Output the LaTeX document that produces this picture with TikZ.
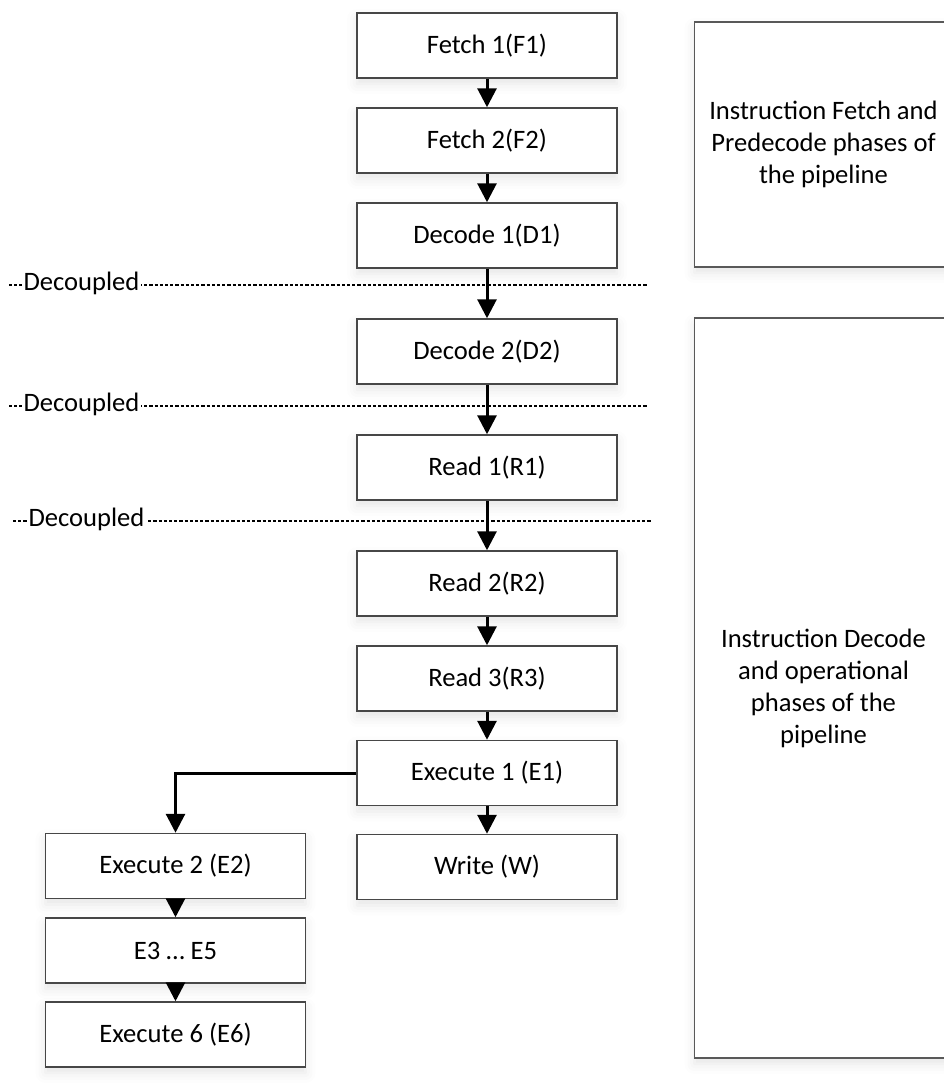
\documentclass[tikz,border=0pt]{standalone}
\usepackage{fontspec}
\setmainfont{Carlito}
\usetikzlibrary{arrows.meta,shadows.blur}
\begin{document}
\begin{tikzpicture}[x=0.5pt,y=-0.5pt,
  font=\fontsize{13.3}{16}\selectfont,
  softshadow/.style={blur shadow={shadow xshift=0pt, shadow yshift=-3pt,
      shadow blur radius=5pt, shadow opacity=10}},
  stage/.style={draw=black!72, line width=0.75pt, fill=white,
    minimum width=130pt, minimum height=32.5pt, inner sep=0pt, softshadow},
  phase/.style={draw=black!65, line width=0.75pt, fill=white,
    minimum width=129pt, inner sep=0pt, align=center, softshadow},
  flow/.style={line width=1.5pt, -{Triangle[width=9.5pt,length=9.5pt]}},
  sepline/.style={line width=1.2pt, dash pattern=on 1.6pt off 1pt},
  seplabel/.style={fill=white, inner xsep=1pt, inner ysep=0pt}]

\useasboundingbox (0,0) rectangle (943,1087);

% pipeline phase panels on the right (their right edges run past the page)
\node[phase, minimum height=122.5pt] (fetchphase) at (823.5,144.5)
  {Instruction Fetch and\\Predecode phases of\\the pipeline};
\node[phase, minimum height=370pt] (decodephase) at (823.5,688)
  {Instruction Decode\\and operational\\phases of the\\pipeline};

% main stage column
\node[stage] (F1) at (487,45.5)  {Fetch 1(F1)};
\node[stage] (F2) at (487,140.5) {Fetch 2(F2)};
\node[stage] (D1) at (487,235.5) {Decode 1(D1)};
\node[stage] (D2) at (487,351.5) {Decode 2(D2)};
\node[stage] (R1) at (487,467.5) {Read 1(R1)};
\node[stage] (R2) at (487,583.5) {Read 2(R2)};
\node[stage] (R3) at (487,678.5) {Read 3(R3)};
\node[stage] (E1) at (487,773)   {Execute 1 (E1)};
\node[stage] (W)  at (487,867)   {Write (W)};

% execute branch
\node[stage] (E2)  at (175.5,866)    {Execute 2 (E2)};
\node[stage] (E35) at (175.5,950.5)  {E3 … E5};
\node[stage] (E6)  at (175.5,1034.5) {Execute 6 (E6)};

% decoupling boundaries
\coordinate (s1a) at (9,285);   \coordinate (s1b) at (648,285);
\coordinate (s2a) at (9,406);   \coordinate (s2b) at (648,406);
\coordinate (s3a) at (13,521);  \coordinate (s3b) at (652,521);
\draw[sepline] (s1a) -- (s1b);
\draw[sepline] (s2a) -- (s2b);
\draw[sepline] (s3a) -- (s3b);
\node[seplabel] (l1) at (81.5,283) {Decoupled};
\node[seplabel] (l2) at (81.5,404) {Decoupled};
\node[seplabel] (l3) at (86.5,519) {Decoupled};

% flow arrows
\draw[flow] (F1) -- (F2);
\draw[flow] (F2) -- (D1);
\draw[flow] (D1) -- (D2);
\draw[flow] (D2) -- (R1);
\draw[flow] (R1) -- (R2);
\draw[flow] (R2) -- (R3);
\draw[flow] (R3) -- (E1);
\draw[flow] (E1) -- (W);
\draw[flow] (E1.west) -| (E2.north);
\draw[flow] (E2) -- (E35);
\draw[flow] (E35) -- (E6);
\end{tikzpicture}
\end{document}
